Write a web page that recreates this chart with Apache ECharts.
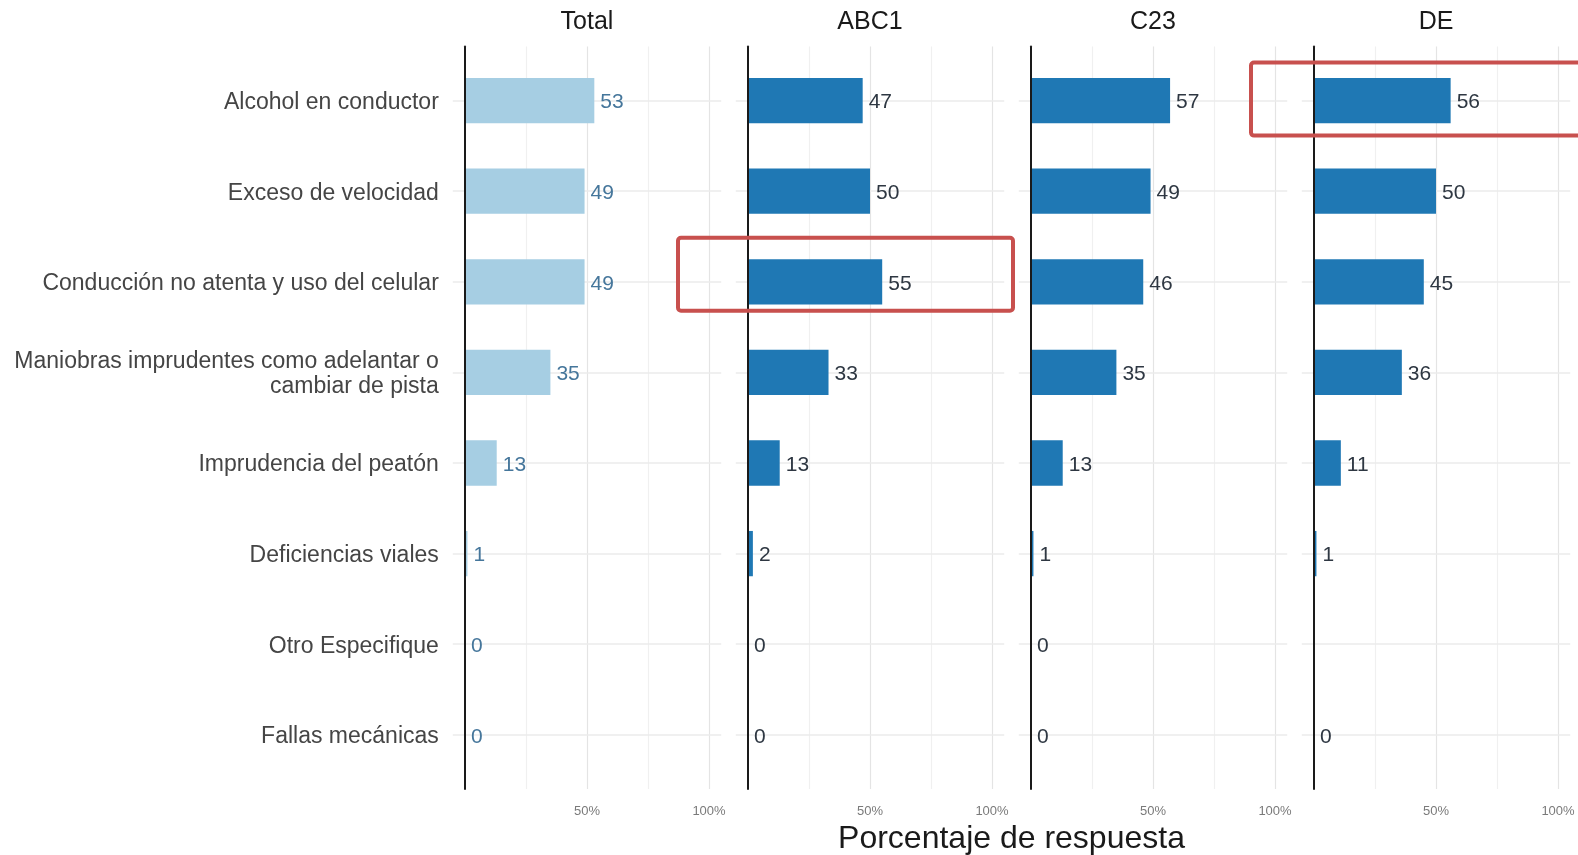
<!DOCTYPE html>
<html>
<head>
<meta charset="utf-8">
<script src="https://cdn.jsdelivr.net/npm/echarts@6/dist/echarts.min.js"></script>
<style>
  html, body { margin: 0; padding: 0; background: #ffffff; }
  #chart { width: 1578px; height: 855px; }
</style>
</head>
<body>
<div id="chart"></div>
<script>
// Causas de accidentes de tránsito, % de respuesta por grupo socioeconómico
const categories = [
  'Alcohol en conductor',
  'Exceso de velocidad',
  'Conducción no atenta y uso del celular',
  'Maniobras imprudentes como adelantar o cambiar de pista',
  'Imprudencia del peatón',
  'Deficiencias viales',
  'Otro Especifique',
  'Fallas mecánicas'
];
const panels = ['Total', 'ABC1', 'C23', 'DE'];
const totalValues = [53, 49, 49, 35, 13, 1, 0, 0];
const abc1Values  = [47, 50, 55, 33, 13, 2, 0, 0];
const c23Values   = [57, 49, 46, 35, 13, 1, 0, 0];
const deValues    = [56, 50, 45, 36, 11, 1, null, 0];
const gridTicks   = [25, 50, 75, 100];
const tickLabels  = [50, 100];
const axisTitle   = 'Porcentaje de respuesta';
// Rows singled out with a frame: panel + category
const highlights = [
  { panel: 'ABC1', category: 'Conducción no atenta y uso del celular' },
  { panel: 'DE',   category: 'Alcohol en conductor' }
];

const panelValues = [totalValues, abc1Values, c23Values, deValues];

// ---- layout ----
const FONT = '"Liberation Sans", Arial, Helvetica, sans-serif';
const ZERO_X = 465;          // x of 0% in the first panel
const PANEL_STEP = 283;      // distance between panels
const PX_PER_PCT = 2.44;
const X_MIN = -5, X_MAX = 105;
const BAR_TOP = 55.3, BAR_H = 724.8;     // category bands
const BG_TOP = 46.5, BG_H = 742.5;       // panel area incl. expansion
const LABEL_DROP = 2;                    // optical baseline nudge for row labels

const BAR_COLORS = ['#a6cee3', '#1f78b4', '#1f78b4', '#1f78b4'];
const LABEL_COLORS = ['#45769b', '#2e3742', '#2e3742', '#2e3742'];

function gridLeft(i) { return ZERO_X + i * PANEL_STEP + X_MIN * PX_PER_PCT; }
const GRID_W = (X_MAX - X_MIN) * PX_PER_PCT;

function wrap(text, maxLen) {
  const words = text.split(' ');
  const lines = [];
  let cur = '';
  words.forEach(w => {
    const next = cur ? cur + ' ' + w : w;
    if (next.length > maxLen && cur) { lines.push(cur); cur = w; }
    else cur = next;
  });
  if (cur) lines.push(cur);
  return lines.join('\n');
}

const grids = [], xAxes = [], yAxes = [], series = [];

// Bar grids (0..3)
panels.forEach((p, i) => {
  grids.push({ left: gridLeft(i), top: BAR_TOP, width: GRID_W, height: BAR_H, outerBoundsMode: 'none', containLabel: false });
  xAxes.push({
    type: 'value', gridIndex: i, min: X_MIN, max: X_MAX,
    axisLine: { show: false }, axisTick: { show: false },
    axisLabel: { show: false }, splitLine: { show: false }
  });
  yAxes.push({
    type: 'category', gridIndex: i, data: categories, inverse: true,
    axisLine: { show: false }, axisTick: { show: false }, splitLine: { show: false },
    axisLabel: { show: false }
  });
});

// Background grids (4..7): vertical grid lines, 0% axis line, tick labels
panels.forEach((p, i) => {
  grids.push({ left: gridLeft(i), top: BG_TOP, width: GRID_W, height: BG_H, outerBoundsMode: 'none', containLabel: false });
  xAxes.push({
    type: 'value', gridIndex: 4 + i, min: X_MIN, max: X_MAX, z: 0,
    axisLine: { show: false },
    axisTick: { show: false, customValues: gridTicks },
    axisLabel: {
      show: true, customValues: tickLabels, formatter: '{value}%',
      fontFamily: FONT, fontSize: 13, color: '#7a7a7a', margin: 16
    },
    splitLine: { show: true, lineStyle: { color: ['#f0f0f0', '#e4e4e4'], width: 1.2 } }
  });
  yAxes.push({
    type: 'value', gridIndex: 4 + i, min: 0, max: 1, z: 10,
    axisLine: { show: true, onZero: true, lineStyle: { color: '#1a1a1a', width: 2 } },
    axisTick: { show: false }, axisLabel: { show: false }, splitLine: { show: false }
  });
});

// Row label grid (8): category names left of the first panel
grids.push({ left: gridLeft(0), top: BAR_TOP + LABEL_DROP, width: GRID_W, height: BAR_H, outerBoundsMode: 'none', containLabel: false });
xAxes.push({
  type: 'value', gridIndex: 8, min: X_MIN, max: X_MAX, show: false
});
yAxes.push({
  type: 'category', gridIndex: 8, data: categories, inverse: true,
  axisLine: { show: false }, axisTick: { show: false }, splitLine: { show: false },
  axisLabel: {
    show: true, margin: 14, fontFamily: FONT, fontSize: 23, color: '#454545',
    lineHeight: 25.5, align: 'right',
    formatter: v => wrap(v, 40)
  }
});

panels.forEach((p, i) => {
  // horizontal grid lines through each category
  series.push({
    type: 'line', xAxisIndex: i, yAxisIndex: i, data: [], z: 1, silent: true,
    markLine: {
      z: 1, silent: true, symbol: ['none', 'none'], animation: false,
      label: { show: false },
      lineStyle: { color: '#ebebeb', width: 1.5, type: 'solid' },
      emphasis: { disabled: true },
      data: categories.map(c => ({ yAxis: c }))
    }
  });
  series.push({
    type: 'bar', name: p, xAxisIndex: i, yAxisIndex: i, z: 3,
    data: panelValues[i], barWidth: '50%',
    itemStyle: { color: BAR_COLORS[i] },
    label: {
      show: true, position: 'right', distance: 6, offset: [0, 2],
      fontFamily: FONT, fontSize: 21, color: LABEL_COLORS[i],
      formatter: d => (d.value == null ? '' : String(d.value))
    },
    emphasis: { disabled: true }
  });
});

const chart = echarts.init(document.getElementById('chart'), null, { renderer: 'canvas' });

const graphics = [];
panels.forEach((p, i) => {
  graphics.push({
    type: 'text', x: ZERO_X + i * PANEL_STEP + 50 * PX_PER_PCT, y: 22,
    style: { text: p, fontFamily: FONT, fontSize: 25, fill: '#1a1a1a', textAlign: 'center', textVerticalAlign: 'middle' }
  });
});
graphics.push({
  type: 'text', x: (gridLeft(0) + gridLeft(3) + GRID_W) / 2, y: 839,
  style: { text: axisTitle, fontFamily: FONT, fontSize: 32, fill: '#1a1a1a', textAlign: 'center', textVerticalAlign: 'middle' }
});

chart.setOption({
  animation: false,
  backgroundColor: '#ffffff',
  grid: grids, xAxis: xAxes, yAxis: yAxes, series: series,
  graphic: graphics
});

// frames around highlighted rows, placed from the axes
const frameOffsets = {
  'ABC1': { l: -70, r: 265, t: -44, b: 29 },
  'DE':   { l: -63, r: 275, t: -38, b: 35 }
};
highlights.forEach(h => {
  const gi = panels.indexOf(h.panel);
  const pt = chart.convertToPixel({ gridIndex: gi }, [0, h.category]);
  const o = frameOffsets[h.panel];
  graphics.push({
    type: 'rect', z: 100,
    shape: { x: pt[0] + o.l, y: pt[1] + o.t, width: o.r - o.l, height: o.b - o.t, r: 3 },
    style: { fill: 'none', stroke: '#c8504e', lineWidth: 4 }
  });
});
chart.setOption({ graphic: graphics });
</script>
</body>
</html>
